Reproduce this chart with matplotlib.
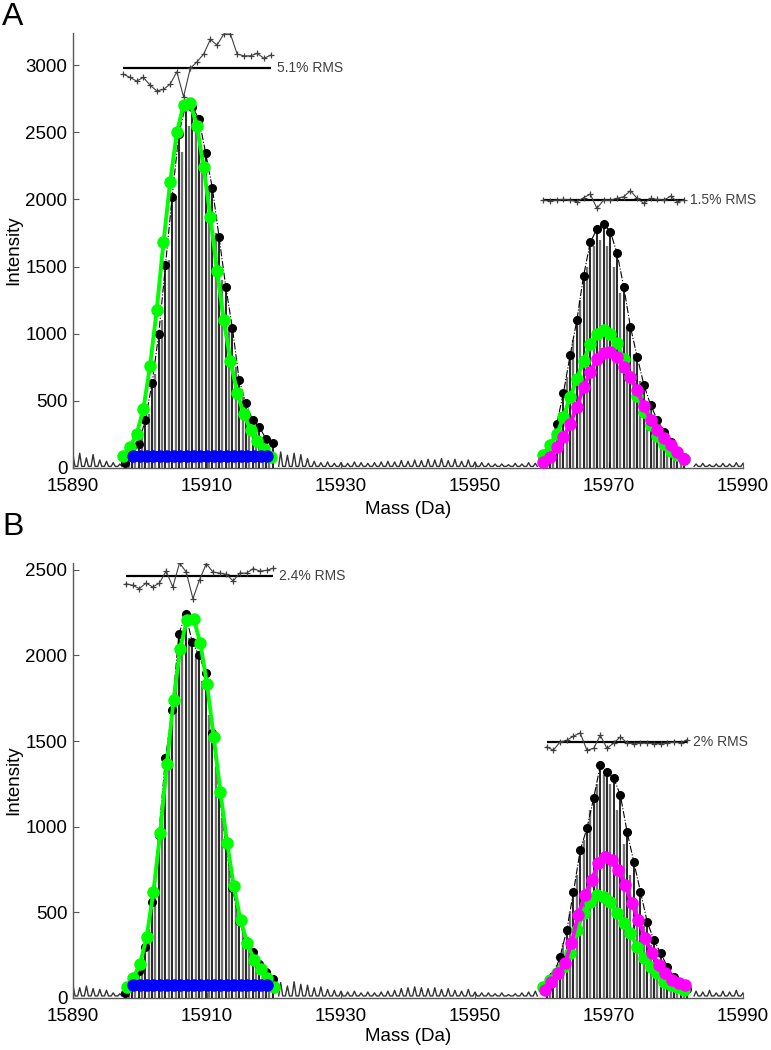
import numpy as np
import matplotlib
matplotlib.use("Agg")
import matplotlib.pyplot as plt

plt.rcParams['font.family'] = ['Liberation Sans', 'DejaVu Sans']

# ---------------- data ----------------
x_ticks = [15890, 15910, 15930, 15950, 15970, 15990]
yticks_A = [0, 500, 1000, 1500, 2000, 2500, 3000]
yticks_B = [0, 500, 1000, 1500, 2000, 2500]
ylim_A = 3240
ylim_B = 2540

# ---- panel A ----
# baseline ripple (peak heights at 1 Da steps) for the three quiet regions
A_noise_left_start = 15890
A_noise_left = [95, 110, 75, 100, 60, 50, 40, 30]
A_noise_mid_start = 15921
A_noise_mid = [120, 95, 110, 100, 70, 50, 40, 45, 35, 40, 35, 45, 40, 35, 40, 45,
               50, 45, 55, 50, 60, 55, 65, 60, 70, 55, 65, 50, 60, 45, 40, 35, 30,
               30, 25, 35, 30, 40, 35]
A_noise_right_start = 15983
A_noise_right = [30, 35, 25, 30, 35, 30, 40, 35]
A_floor = 12

# first species cluster
A1_black_start = 15897.8
A1_black = [40, 90, 180, 360, 630, 1000, 1510, 2020, 2490, 2700, 2690, 2600, 2345,
            2085, 1720, 1350, 1040, 655, 484, 357, 308, 216, 186]
A1_grey_start = 15898.3
A1_grey = [70, 150, 230, 400, 700, 1100, 1550, 2000, 2350, 2550, 2500, 2350, 2100,
           1750, 1400, 1050, 750, 530, 380, 270, 200, 130]
A1_green_start = 15897.5
A1_green = [90, 160, 250, 440, 760, 1180, 1680, 2130, 2500, 2705, 2715, 2550, 2240,
            1870, 1470, 1100, 800, 560, 400, 280, 200, 140, 80]
A_blue_start = 15899
A_blue = [90, 90, 90, 90, 90, 90, 90, 90, 90, 90, 90, 90, 90, 90, 90, 90, 90, 90,
          90, 90, 90]
A1_resid_start = 15897.5
A1_resid = [2934, 2909, 2882, 2909, 2852, 2809, 2820, 2859, 2951, 2765, 2976, 3025,
            3083, 3192, 3150, 3232, 3232, 3083, 3070, 3070, 3088, 3051, 3075]
A1_rms_level = 2981
A1_rms_text = "5.1% RMS"

# second cluster
A2_black_start = 15960.2
A2_black = [90, 180, 330, 560, 840, 1100, 1430, 1680, 1780, 1820, 1760, 1600, 1350,
            1050, 830, 620, 470, 360, 270, 190, 130, 80]
A2_grey_start = 15960.7
A2_grey = [120, 240, 420, 680, 950, 1250, 1500, 1650, 1700, 1650, 1500, 1300, 1050,
           850, 650, 480, 370, 280, 200, 140, 90]
A2_green_start = 15960.2
A2_green = [100, 175, 250, 380, 530, 660, 800, 920, 1000, 1030, 1000, 930, 810, 680,
            540, 420, 320, 240, 180, 130, 95, 65]
A2_magenta_start = 15960.2
A2_magenta = [45, 85, 155, 230, 330, 455, 600, 715, 815, 860, 866, 830, 755, 680,
              580, 460, 360, 285, 220, 170, 120, 70]
A2_resid_start = 15960.2
A2_resid = [1996, 1988, 1996, 2000, 1996, 1983, 2013, 2040, 1934, 1996, 1996, 2008,
            2021, 2065, 2008, 1971, 2008, 2000, 1996, 2025, 1983, 1996]
A2_rms_level = 1996
A2_rms_text = "1.5% RMS"

# ---- panel B ----
B_noise_left_start = 15890
B_noise_left = [75, 60, 70, 55, 50, 45, 30, 25]
B_noise_mid_start = 15921
B_noise_mid = [90, 70, 95, 80, 75, 60, 65, 50, 45, 40, 35, 40, 30, 35, 30, 35, 40,
               45, 55, 60, 65, 60, 55, 60, 50, 55, 45, 40, 50, 35, 30, 30, 25, 30,
               20, 25, 30, 35, 40]
B_noise_right_start = 15983
B_noise_right = [40, 35, 45, 30, 40, 35, 45, 30]
B_floor = 12

B1_black_start = 15897.8
B1_black = [30, 80, 160, 300, 560, 950, 1400, 1680, 2125, 2240, 2080, 2000, 1900,
            1550, 1200, 900, 640, 450, 330, 270, 200, 150, 110]
B1_grey_start = 15898.3
B1_grey = [60, 120, 220, 400, 700, 1100, 1500, 1850, 2050, 2100, 2000, 1850, 1650,
           1350, 1050, 780, 560, 400, 290, 220, 160, 110]
B1_green_start = 15898.0
B1_green = [66, 115, 198, 358, 620, 961, 1365, 1739, 2040, 2209, 2215, 2073, 1832,
            1525, 1204, 906, 653, 455, 323, 222, 167, 115, 66]
B_blue_start = 15899
B_blue = [78, 78, 78, 78, 78, 78, 78, 78, 78, 78, 78, 78, 78, 78, 78, 78, 78, 78,
          78, 78, 78]
B1_resid_start = 15897.9
B1_resid = [2419, 2410, 2390, 2423, 2400, 2423, 2493, 2400, 2540, 2487, 2332, 2443,
            2536, 2487, 2481, 2474, 2435, 2481, 2481, 2507, 2493, 2497, 2510]
B1_rms_level = 2462
B1_rms_text = "2.4% RMS"

B2_black_start = 15960.7
B2_black = [60, 130, 241, 397, 620, 863, 990, 1165, 1359, 1320, 1282, 1184, 970,
            795, 620, 445, 338, 262, 183, 120, 80, 50]
B2_grey_start = 15961.2
B2_grey = [100, 190, 320, 500, 720, 920, 1100, 1250, 1300, 1250, 1100, 900, 720,
           560, 420, 310, 230, 160, 110, 75, 50]
B2_green_start = 15960.2
B2_green = [66, 105, 144, 183, 261, 397, 494, 562, 601, 591, 562, 494, 436, 377,
            299, 232, 183, 144, 95, 76, 62, 47]
B2_magenta_start = 15960.4
B2_magenta = [47, 95, 144, 202, 319, 484, 601, 688, 786, 824, 805, 747, 659, 552,
              455, 348, 261, 193, 144, 105, 89, 76]
B2_resid_start = 15960.7
B2_resid = [1466, 1447, 1495, 1505, 1529, 1548, 1447, 1457, 1534, 1457, 1489, 1525,
            1489, 1486, 1489, 1489, 1486, 1486, 1489, 1495, 1489, 1509]
B2_rms_level = 1495
B2_rms_text = "2% RMS"

# ---------------- drawing ----------------
GREEN = (0, 1, 0)
MAGENTA = (1, 0, 1)
BLUE = (0, 0, 1)
AXCOL = '0.35'


def masses(start, vals):
    return start + np.arange(len(vals))


def ripple(ax, start, vals, floor):
    # narrow spikes on a flat floor, one spike per Da
    m = masses(start, vals)
    n = len(vals)
    fl = np.full(n, floor)
    xs = np.column_stack([m - 0.3, m, m + 0.3]).ravel()
    ys = np.column_stack([fl, vals, fl]).ravel()
    ax.plot(xs, ys, color='0.2', lw=1.0, zorder=2)


def cluster(ax, bstart, black, gstart, grey):
    gm = masses(gstart, grey)
    bm = masses(bstart, black)
    ax.vlines(bm, 0, black, color='k', lw=1.2, zorder=3)
    ax.vlines(gm, 0, grey, color='0.45', lw=1.7, zorder=3)
    ax.plot(bm, black, color='k', ls='-.', lw=0.8, marker='o', ms=5.5, zorder=4)


def envelope(ax, start, vals, color, z):
    ax.plot(masses(start, vals), vals, color=color, lw=2.8, marker='o', ms=8,
            mec=color, mfc=color, zorder=z)


def residual(ax, start, vals, level, text):
    m = masses(start, vals)
    ax.hlines(level, m[0], m[-1], color='k', lw=1.6, zorder=5)
    ax.plot(m, vals, color='0.25', lw=0.8, marker='+', ms=4.5, mew=0.9, zorder=6)
    ax.text(m[-1] + 0.9, level, text, fontsize=10, color='0.25', va='center',
            ha='left')


def style(ax, ylim, yticks, xpad, xlab_y):
    ax.set_xlim(15890, 15990)
    ax.set_ylim(0, ylim)
    ax.set_xticks(x_ticks)
    ax.set_yticks(yticks)
    for s in ['top', 'right']:
        ax.spines[s].set_visible(False)
    for s in ['left', 'bottom']:
        ax.spines[s].set_color(AXCOL)
        ax.spines[s].set_linewidth(1.0)
    ax.tick_params(direction='in', length=4, color=AXCOL, labelsize=13.5)
    ax.tick_params(axis='x', pad=xpad)
    ax.tick_params(axis='y', pad=4)
    ax.set_xlabel('Mass (Da)', fontsize=13.5, va='top')
    ax.xaxis.set_label_coords(0.5, xlab_y)
    ax.set_ylabel('Intensity', fontsize=13.5)
    ax.yaxis.set_label_coords(-0.075, 0.5)


fig = plt.figure(figsize=(7.71, 10.5), dpi=100)
axA = fig.add_axes([73 / 771, 1 - 468 / 1050, 670 / 771, 435 / 1050])
axB = fig.add_axes([73 / 771, 1 - 998 / 1050, 670 / 771, 435 / 1050])

# Panel A
ripple(axA, A_noise_left_start, A_noise_left, A_floor)
ripple(axA, A_noise_mid_start, A_noise_mid, A_floor)
ripple(axA, A_noise_right_start, A_noise_right, A_floor)
cluster(axA, A1_black_start, A1_black, A1_grey_start, A1_grey)
cluster(axA, A2_black_start, A2_black, A2_grey_start, A2_grey)
envelope(axA, A1_green_start, A1_green, GREEN, 7)
axA.plot(masses(A_blue_start, A_blue), A_blue, color=BLUE, lw=3, marker='o', ms=8,
         mec=BLUE, mfc=BLUE, zorder=8)
envelope(axA, A2_green_start, A2_green, GREEN, 7)
envelope(axA, A2_magenta_start, A2_magenta, MAGENTA, 8)
residual(axA, A1_resid_start, A1_resid, A1_rms_level, A1_rms_text)
residual(axA, A2_resid_start, A2_resid, A2_rms_level, A2_rms_text)
style(axA, ylim_A, yticks_A, 7, -0.075)

# Panel B
ripple(axB, B_noise_left_start, B_noise_left, B_floor)
ripple(axB, B_noise_mid_start, B_noise_mid, B_floor)
ripple(axB, B_noise_right_start, B_noise_right, B_floor)
cluster(axB, B1_black_start, B1_black, B1_grey_start, B1_grey)
cluster(axB, B2_black_start, B2_black, B2_grey_start, B2_grey)
envelope(axB, B1_green_start, B1_green, GREEN, 7)
axB.plot(masses(B_blue_start, B_blue), B_blue, color=BLUE, lw=3, marker='o', ms=8,
         mec=BLUE, mfc=BLUE, zorder=8)
envelope(axB, B2_green_start, B2_green, GREEN, 7)
envelope(axB, B2_magenta_start, B2_magenta, MAGENTA, 8)
residual(axB, B1_resid_start, B1_resid, B1_rms_level, B1_rms_text)
residual(axB, B2_resid_start, B2_resid, B2_rms_level, B2_rms_text)
style(axB, ylim_B, yticks_B, 7, -0.068)

fig.text(2 / 771, 1 - 25 / 1050, 'A', fontsize=23, va='baseline', ha='left')
fig.text(2 / 771, 1 - 535 / 1050, 'B', fontsize=23, va='baseline', ha='left')

fig.savefig('out.png', dpi=100)
